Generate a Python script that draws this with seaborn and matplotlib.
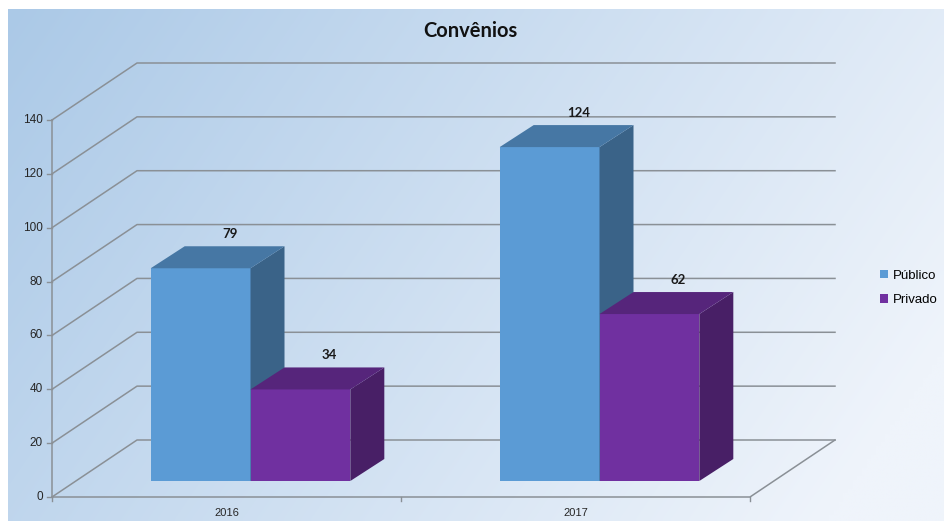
import numpy as np
import pandas as pd
import seaborn as sns
import matplotlib
matplotlib.use("Agg")
import matplotlib.pyplot as plt
from matplotlib.patches import Polygon, Rectangle
from matplotlib.colors import to_rgb

# ---------------- data ----------------
years = ["2016", "2017"]
series = ["Público", "Privado"]
publico = [79, 124]
privado = [34, 62]
yticks = [0, 20, 40, 60, 80, 100, 120, 140]
title = "Convênios"
front_colors = ["#5b9bd5", "#7030a0"]

df = pd.DataFrame({
    "year": years * 2,
    "series": [series[0]] * len(years) + [series[1]] * len(years),
    "value": publico + privado,
})

W, H = 944, 521
fig = plt.figure(figsize=(W / 100, H / 100), dpi=100)

# ---------------- background gradient ----------------
bg = fig.add_axes([0, 0, 1, 1], zorder=-10)
bg.set_xlim(0, W)
bg.set_ylim(H, 0)
bg.axis("off")
nx, ny = 200, 120
u = np.linspace(0, 1, nx)[None, :]
v = np.linspace(0, 1, ny)[:, None]
t = np.clip(0.8 * u + 0.3 * v, 0, 1)
c0 = np.array(to_rgb("#abc9e7"))
c1 = np.array(to_rgb("#eff4fb"))
img = c0[None, None, :] * (1 - t[..., None]) + c1[None, None, :] * t[..., None]
bg.imshow(img, extent=[8, W, H, 9], aspect="auto", interpolation="bilinear")

# ---------------- main axes (bar front plane) ----------------
ax = fig.add_axes([76 / W, 40 / H, 698 / W, 377 / H])
ax.patch.set_alpha(0)
sns.barplot(data=df, x="year", y="value", hue="series", palette=front_colors,
            width=0.572, saturation=1, ax=ax, legend=False, linewidth=0)
ax.set_xlim(-0.5, 1.5)
ax.set_ylim(0, 140)
ax.axis("off")

inv = ax.transData.inverted()


def disp(x, y):
    return np.array(ax.transData.transform((x, y)))


def todata(pts):
    return inv.transform(np.array(pts))


FX, FY = -24, -16   # front plane offset (pixels)
BX, BY = 61, 41     # back wall offset
DX, DY = 34, 22     # bar depth

grid_c = "#8a9096"
x_left, x_right = -0.5, 1.5

# gridlines: left wall + back wall
for val in yticks:
    p = disp(x_left, val)
    q = disp(x_right, val)
    pts = [p + (FX, FY), p + (BX, BY), q + (BX, BY)]
    d = todata(pts)
    ax.plot(d[:, 0], d[:, 1], color=grid_c, lw=1.1, zorder=0.5, clip_on=False)

# floor
p0 = disp(x_left, 0)
p1 = disp(x_right, 0)
d = todata([p0 + (FX, FY), p1 + (FX, FY), p1 + (BX, BY)])
ax.plot(d[:, 0], d[:, 1], color=grid_c, lw=1.1, zorder=0.6, clip_on=False)

# category ticks on floor
for xb in [x_left, 0.5, x_right]:
    p = disp(xb, 0) + (FX, FY)
    d = todata([p, p + (0, -4)])
    ax.plot(d[:, 0], d[:, 1], color=grid_c, lw=1, zorder=0.6, clip_on=False)

# y axis line and ticks
pa = disp(x_left, 0) + (FX, FY)
pb = disp(x_left, 140) + (FX, FY)
d = todata([pa, pb])
ax.plot(d[:, 0], d[:, 1], color=grid_c, lw=1.1, zorder=0.6, clip_on=False)
for val in yticks:
    p = disp(x_left, val) + (FX, FY)
    d = todata([p, p + (-5, 0)])
    ax.plot(d[:, 0], d[:, 1], color=grid_c, lw=1, zorder=0.6, clip_on=False)
    lp = todata([p + (-9, 0)])[0]
    ax.text(lp[0], lp[1], str(val), ha="right", va="center", fontsize=8.5,
            family="Liberation Sans", color="#262626", clip_on=False)

# category labels
for i, yr in enumerate(years):
    p = disp(i, 0) + (FX, FY) + (0, -16)
    lp = todata([p])[0]
    ax.text(lp[0], lp[1], yr, ha="center", va="center", fontsize=8,
            family="Liberation Sans", color="#262626", clip_on=False)

# ---------------- 3D bar faces ----------------
bars = sorted([p for p in ax.patches if isinstance(p, Rectangle) and p.get_height() > 0],
              key=lambda r: r.get_x())
for i, r in enumerate(bars):
    x0, w, h = r.get_x(), r.get_width(), r.get_height()
    fc = np.array(to_rgb(r.get_facecolor()))
    z = 3 + i * 0.1
    r.set_zorder(z)
    r.set_clip_on(False)
    fl_b, fr_b = disp(x0, 0), disp(x0 + w, 0)
    fl_t, fr_t = disp(x0, h), disp(x0 + w, h)
    D = np.array((DX, DY))
    side = todata([fr_b, fr_t, fr_t + D, fr_b + D])
    top = todata([fl_t, fr_t, fr_t + D, fl_t + D])
    ax.add_patch(Polygon(side, closed=True, facecolor=fc * 0.64, edgecolor="none",
                         zorder=z + 0.01, clip_on=False))
    ax.add_patch(Polygon(top, closed=True, facecolor=fc * 0.77, edgecolor="none",
                         zorder=z + 0.02, clip_on=False))
    lp = todata([disp(x0 + w / 2, h) + (29, 34)])[0]
    ax.text(lp[0], lp[1], f"{h:.0f}", ha="center", va="center", fontsize=9.5,
            family="Lato", fontweight="bold", color="#1a1a1a", zorder=10, clip_on=False)

# ---------------- title & legend ----------------
fig.text(470 / W, 1 - 31 / H, title, ha="center", va="center", fontsize=14.5,
         family="Lato", fontweight="bold", color="#111111")

handles = [Rectangle((0, 0), 1, 1, facecolor=c, edgecolor="none") for c in front_colors]
fig.legend(handles, series, loc="center left", bbox_to_anchor=(868 / W, 1 - 288 / H),
           frameon=False, handlelength=0.6, handleheight=0.6, handletextpad=0.4,
           labelspacing=0.95, prop={"family": "Liberation Sans", "size": 9.5})

fig.savefig("out.png", dpi=100)
